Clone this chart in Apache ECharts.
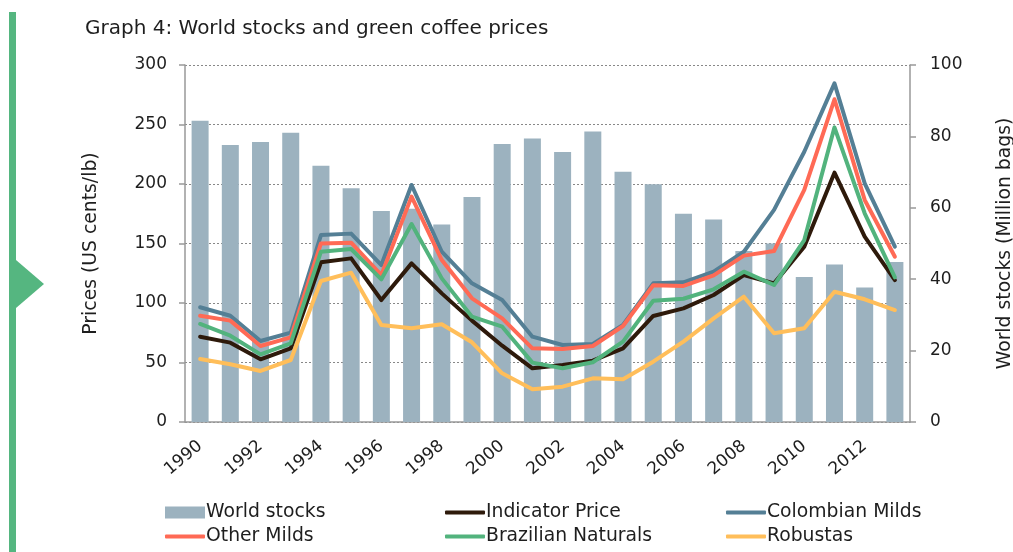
<!DOCTYPE html>
<html>
<head>
<meta charset="utf-8">
<script src="https://cdn.jsdelivr.net/npm/echarts@6/dist/echarts.min.js"></script>
<style>
  html, body { margin: 0; padding: 0; background: #fff; }
  #chart { width: 1013px; height: 552px; }
</style>
</head>
<body>
<div id="chart"></div>
<script>
// values
const years = ['1990','1991','1992','1993','1994','1995','1996','1997','1998','1999','2000','2001',
               '2002','2003','2004','2005','2006','2007','2008','2009','2010','2011','2012','2013']
const worldStocks = [84.4, 77.6, 78.4, 81.0, 71.8, 65.5, 59.1, 59.7, 55.3, 63.0, 77.9, 79.4,
                     75.6, 81.4, 70.1, 66.6, 58.3, 56.7, 47.9, 50.0, 40.6, 44.1, 37.7, 44.8]
const indicatorPrice = [71.7, 66.7, 52.7, 61.9, 134.2, 137.5, 102.5, 133.3, 108.1, 85.2, 64.1, 45.1,
                        47.9, 51.5, 61.9, 89.1, 95.5, 106.7, 123.5, 116.5, 147.3, 209.5, 155.7, 119.3]
const colombianMilds = [96.4, 89.3, 68.1, 75.1, 157.1, 158.3, 131.9, 199.2, 143.1, 116.5, 102.5, 71.7,
                        64.7, 65.5, 81.5, 116.5, 117.4, 126.3, 143.1, 178.2, 227.1, 284.6, 200.6, 147.3]
const otherMilds = [89.3, 85.2, 63.9, 71.1, 150.1, 150.7, 123.5, 189.4, 136.1, 103.9, 87.1, 61.9,
                    61.3, 63.9, 80.7, 114.9, 114.3, 123.2, 139.8, 143.7, 195.0, 271.2, 186.6, 138.9]
const brazilianNaturals = [82.4, 72.5, 56.8, 66.1, 143.1, 145.4, 119.9, 166.4, 120.7, 88.5, 80.1, 49.9,
                           45.1, 50.2, 67.5, 101.9, 103.6, 111.5, 126.3, 115.1, 152.9, 247.6, 175.4, 121.6]
const robustas = [52.9, 48.5, 42.9, 52.1, 118.5, 125.5, 81.5, 78.7, 82.1, 67.0, 40.9, 27.5,
                  29.7, 36.7, 35.9, 50.7, 67.5, 87.1, 105.3, 74.5, 78.7, 109.5, 103.1, 94.1]

const FONT = 'DejaVu Sans'
const FS = 17      // tick labels
const FS_NAME = 18.8  // axis names, legend
const TXT = '#1e1e1e'
const AXIS = '#999'

const lineSeries = [
    ['Indicator Price', indicatorPrice, '#2e1a0b'],
    ['Colombian Milds', colombianMilds, '#547f95'],
    ['Other Milds', otherMilds, '#ff6a55'],
    ['Brazilian Naturals', brazilianNaturals, '#52b37d'],
    ['Robustas', robustas, '#ffbe5a'],
]

const legendPos = [
    ['World stocks', 160, 498],
    ['Indicator Price', 440, 498],
    ['Colombian Milds', 721, 498],
    ['Other Milds', 160, 522],
    ['Brazilian Naturals', 440, 522],
    ['Robustas', 721, 522],
]

const chart = echarts.init(document.getElementById('chart'))
chart.setOption({
    animation: false,
    textStyle: {fontFamily: FONT},
    title: {
        text: 'Graph 4: World stocks and green coffee prices',
        left: 80, top: 14,
        textStyle: {fontFamily: FONT, fontSize: 20, fontWeight: 'normal', color: TXT}
    },
    graphic: [
        {type: 'rect', shape: {x: 9, y: 12, width: 7, height: 545}, style: {fill: '#55b680'}},
        {type: 'polygon', shape: {points: [[16, 260], [44, 284], [16, 308]]}, style: {fill: '#55b680'}}
    ],
    legend: legendPos.map(([name, x, y], i)=>({
        data: [{name, icon: i == 0 ? 'rect' : 'roundRect'}],
        left: x, top: y,
        itemWidth: 40, itemHeight: i == 0 ? 12 : 4,
        itemGap: 0,
        textStyle: {fontFamily: FONT, fontSize: FS_NAME, color: TXT, padding: [0, 0, 0, -4]}
    })),
    grid: {left: 185, right: 103, top: 65, bottom: 130, outerBoundsMode: 'none'},
    xAxis: {
        type: 'category',
        data: years,
        boundaryGap: true,
        axisLine: {lineStyle: {color: AXIS, width: 1.5}},
        axisTick: {interval: 0, length: 6, lineStyle: {color: AXIS, width: 1.5}},
        axisLabel: {interval: 1, rotate: 40, fontSize: FS, color: TXT, margin: 22}
    },
    yAxis: [
        {
            type: 'value', min: 0, max: 300, interval: 50,
            name: 'Prices (US cents/lb)', nameLocation: 'middle', nameGap: 84,
            nameTextStyle: {fontSize: FS_NAME, color: TXT},
            axisLine: {show: true, lineStyle: {color: AXIS, width: 1.5}},
            axisTick: {show: true, length: 6, lineStyle: {color: AXIS, width: 1.5}},
            axisLabel: {fontSize: FS, color: TXT, margin: 18},
            splitLine: {lineStyle: {color: '#888', type: [2, 2], width: 1}}
        },
        {
            type: 'value', min: 0, max: 100, interval: 20,
            name: 'World stocks (Million bags)', nameLocation: 'middle', nameGap: 86,
            nameTextStyle: {fontSize: FS_NAME, color: TXT},
            axisLine: {show: true, lineStyle: {color: AXIS, width: 1.5}},
            axisTick: {show: true, length: 6, lineStyle: {color: AXIS, width: 1.5}},
            axisLabel: {fontSize: FS, color: TXT, margin: 20},
            splitLine: {show: false}
        }
    ],
    series: [
        {
            name: 'World stocks', type: 'bar', yAxisIndex: 1,
            data: worldStocks, barWidth: 17,
            itemStyle: {color: '#9cb2bf'}
        },
        ...lineSeries.map(([name, data, color])=>({
            name, type: 'line', data,
            symbol: 'none', color,
            lineStyle: {width: 4, color, cap: 'round', join: 'round'}
        }))
    ]
})
</script>
</body>
</html>
